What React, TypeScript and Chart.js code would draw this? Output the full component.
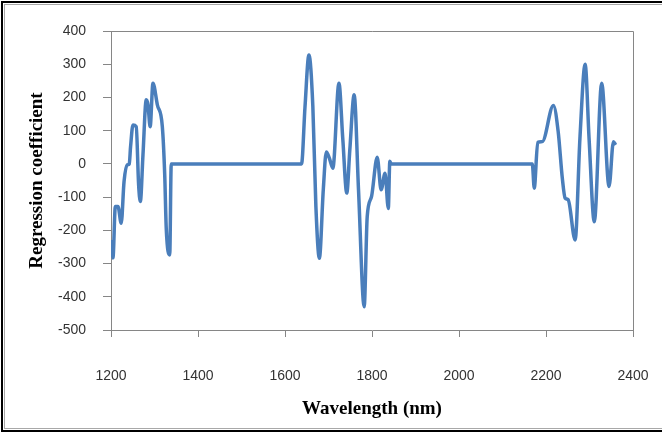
import React, { useEffect, useRef } from "react";
import { Chart, registerables } from "chart.js";

Chart.register(...registerables);

// Wavelength (nm) of each sampled point along the curve
const wavelengths = [
  1202, 1204.5, 1210, 1216, 1223.5, 1230, 1237.5, 1242, 1245, 1250.5, 1258, 1263.5,
  1267.5, 1273.5, 1281, 1285, 1290, 1296.5, 1306.5, 1318, 1323.5, 1327, 1335, 1338.5,
  1638, 1646, 1655, 1664, 1671, 1679, 1688, 1695, 1702, 1710, 1724, 1733, 1742, 1749,
  1759, 1769, 1782, 1789, 1799, 1812, 1821, 1830, 1837.5, 1841, 1844,
  2168.5, 2173, 2181, 2191.5, 2217, 2228, 2237.5, 2244, 2251, 2267, 2278, 2290, 2299,
  2311, 2328, 2345, 2355, 2360,
];

// Regression coefficient at each wavelength
const coefficients = [
  -229, -283, -128, -128, -179, -53, -3, 0, 52, 117, 112, -63,
  -113, 27, 193, 178, 112, 243, 178, 112, -33, -194, -274, 0,
  0, 172, 328, 173, -128, -284, -78, 36, 17, -13, 243, 72, -88, 42,
  208, -78, -430, -159, -98, 20, -78, -28, -134, 8, 0,
  0, -73, 65, 67, 176, 97, -43, -103, -108, -229, 77, 300, 77,
  -174, 243, -68, 67, 57,
];

const xAxisTitle = "Wavelength (nm)";
const yAxisTitle = "Regression coefficient";

const AXIS_GREY = "#868686";

const framePlugin = {
  id: "frame",
  beforeDraw(chart: any) {
    const ctx = chart.ctx;
    ctx.save();
    ctx.fillStyle = "#ffffff";
    ctx.fillRect(0, 0, chart.width, chart.height);
    ctx.strokeStyle = "#000000";
    ctx.lineWidth = 2;
    ctx.strokeRect(2, 2, 720, 429);
    ctx.strokeStyle = "#a8a8a8";
    ctx.lineWidth = 1;
    ctx.strokeRect(4.5, 4.5, 720, 424);
    ctx.restore();
  },
  beforeDatasetsDraw(chart: any) {
    const { ctx, chartArea } = chart;
    ctx.save();
    ctx.strokeStyle = AXIS_GREY;
    ctx.lineWidth = 1;
    ctx.beginPath();
    ctx.moveTo(chartArea.left, chartArea.top + 0.5);
    ctx.lineTo(chartArea.right + 0.5, chartArea.top + 0.5);
    ctx.lineTo(chartArea.right + 0.5, chartArea.bottom);
    ctx.stroke();
    ctx.restore();
  },
};

export default function App() {
  const ref = useRef<HTMLCanvasElement>(null);

  useEffect(() => {
    const chart = new Chart(ref.current!, {
      type: "line",
      data: {
        datasets: [
          {
            data: wavelengths.map((x, i) => ({ x, y: coefficients[i] })),
            borderColor: "#4A7EBB",
            borderWidth: 3.5,
            pointRadius: 0,
            fill: false,
            cubicInterpolationMode: "monotone",
          },
        ],
      },
      options: {
        responsive: false,
        animation: false,
        devicePixelRatio: 1,
        layout: { padding: { top: 31, right: 29, left: 0, bottom: 0 } },
        plugins: {
          legend: { display: false },
          tooltip: { enabled: false },
        },
        scales: {
          x: {
            type: "linear",
            min: 1200,
            max: 2400,
            ticks: {
              stepSize: 200,
              color: "#333333",
              font: { family: "Liberation Sans", size: 14 },
              padding: 31,
              maxRotation: 0,
              callback: (v: any) => String(v),
            },
            grid: {
              drawOnChartArea: false,
              drawTicks: true,
              tickLength: 7,
              color: AXIS_GREY,
            },
            border: { display: true, color: AXIS_GREY },
            title: {
              display: true,
              text: xAxisTitle,
              color: "#000000",
              font: { family: "Liberation Serif", size: 19, weight: "bold" },
              padding: { top: 0, bottom: 12 },
            },
            afterFit: (s: any) => {
              s.height = 102;
              s.paddingLeft = 0;
              s.paddingRight = 0;
            },
          },
          y: {
            min: -500,
            max: 400,
            ticks: {
              stepSize: 100,
              color: "#333333",
              font: { family: "Liberation Sans", size: 14 },
              padding: 17,
              callback: (v: any) => String(v),
            },
            grid: {
              drawOnChartArea: false,
              drawTicks: true,
              tickLength: 8,
              color: AXIS_GREY,
            },
            border: { display: true, color: AXIS_GREY },
            title: {
              display: true,
              text: yAxisTitle,
              color: "#000000",
              font: { family: "Liberation Serif", size: 19, weight: "bold" },
              padding: { top: 26, bottom: 0 },
            },
            afterFit: (s: any) => {
              s.width = 111;
              s.paddingTop = 0;
              s.paddingBottom = 0;
            },
          },
        },
      },
      plugins: [framePlugin],
    } as any);
    return () => chart.destroy();
  }, []);

  return (
    <div style={{ position: "absolute", left: 0, top: 0, width: 662, height: 432 }}>
      <canvas
        ref={ref}
        width={662}
        height={432}
        style={{ width: 662, height: 432, display: "block" }}
      />
    </div>
  );
}
